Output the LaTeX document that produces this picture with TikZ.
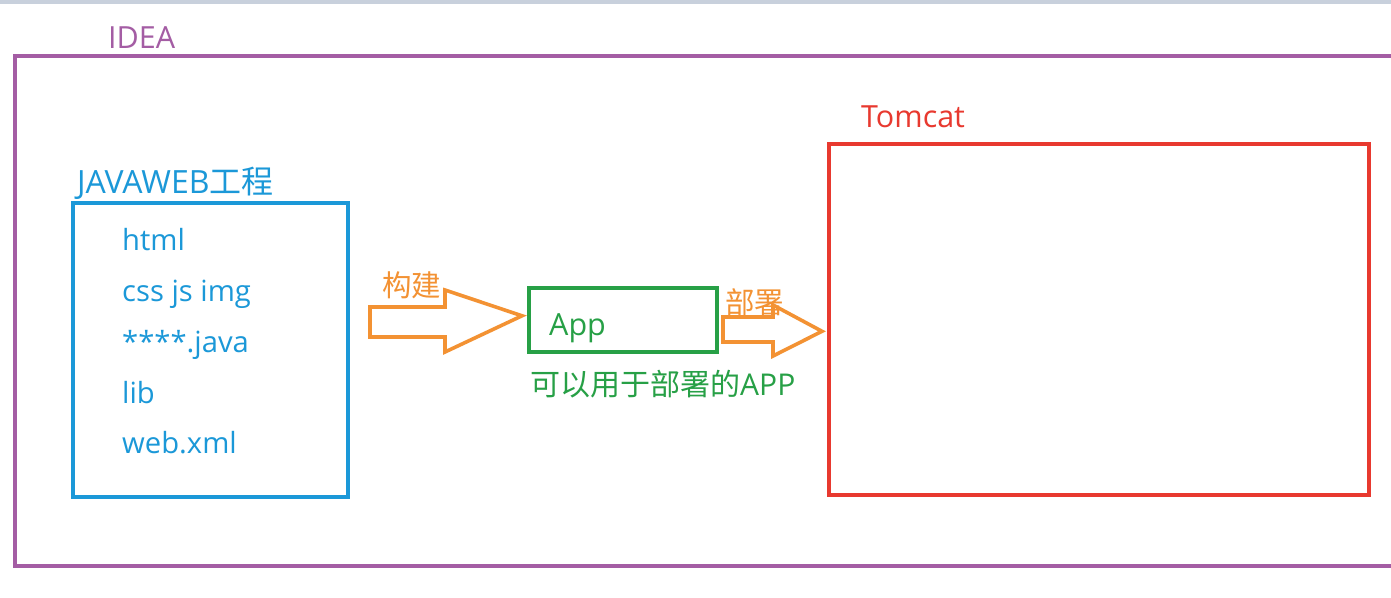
\documentclass[tikz,border=0pt]{standalone}
\usepackage{fontspec}
\usetikzlibrary{calc}
\setmainfont{Open Sans}
\newfontfamily\cjk{Noto Sans CJK SC}
\definecolor{ideapurple}{HTML}{A45DA4}
\definecolor{webblue}{HTML}{1B98D8}
\definecolor{appgreen}{HTML}{27A046}
\definecolor{tomred}{HTML}{E8392F}
\definecolor{arrorange}{HTML}{F39233}
\definecolor{topbar}{HTML}{C8D0DC}
\begin{document}
\begin{tikzpicture}[x=1pt,y=-1pt,
  frame/.style={draw, line width=3.6pt, inner sep=0pt},
  lbl/.style={anchor=base west, inner sep=0pt, font=\fontsize{30}{36}\selectfont},
  item/.style={anchor=base west, inner sep=0pt, text=webblue, font=\fontsize{29.2}{34}\selectfont},
  blockarrow/.style={draw=arrorange, line width=3.6pt, line join=miter, fill=white}]
\useasboundingbox (0,0) rectangle (1391,597);
\fill[white] (0,0) rectangle (1391,597);
\fill[topbar] (0,0) rectangle (1391,4);
% IDEA frame
\draw[draw=ideapurple, line width=3.6pt] (1400,56) -- (15,56) -- (15,566) -- (1400,566);
\node[lbl, text=ideapurple, font=\fontsize{30.5}{36}\selectfont] (idea) at (108,48) {IDEA};
% JAVAWEB project
\node[frame, draw=webblue, minimum width=275pt, minimum height=294pt, anchor=north west] (web) at (71,201) {};
\node[lbl, text=webblue, font=\fontsize{32}{38}\selectfont] (webt) at (77,193) {JAVAWEB{\cjk 工程}};
\node[item] (i1) at (122,250) {html};
\node[item] (i2) at (122,301) {css js img};
\node[item] (i3) at (122,352) {****.java};
\node[item] (i4) at (122,403) {lib};
\node[item] (i5) at (122,453) {web.xml};
% App
\node[frame, draw=appgreen, minimum width=188pt, minimum height=64pt, anchor=north west] (app) at (527,286) {};
\node[lbl, text=appgreen, font=\fontsize{30.5}{36}\selectfont] (appt) at (549,335) {App};
\node[lbl, text=appgreen, font=\fontsize{30}{34}\selectfont] (appd) at (530,395) {{\cjk 可以用于部署的}APP};
% Tomcat
\node[frame, draw=tomred, minimum width=540pt, minimum height=351pt, anchor=north west] (tom) at (827,142) {};
\node[lbl, text=tomred, font=\fontsize{30.5}{36}\selectfont] (tomt) at (861,127) {Tomcat};
% arrows
\coordinate (a1) at ($(app.west)+(-5,-4)$);
\draw[blockarrow] (370,307) -- (445,307) -- (445,290) -- (a1) -- (445,352) -- (445,337) -- (370,337) -- cycle;
\coordinate (a2) at ($(tom.west)+(-5,12)$);
\draw[blockarrow] (723,317) -- (773,317) -- (773,305) -- (a2) -- (773,356) -- (773,342) -- (723,342) -- cycle;
\node[lbl, text=arrorange, font=\fontsize{29.5}{34}\selectfont\cjk] (l1) at (382,296) {构建};
\node[lbl, text=arrorange, font=\fontsize{29.5}{34}\selectfont\cjk] (l2) at (725,313) {部署};
\end{tikzpicture}
\end{document}
